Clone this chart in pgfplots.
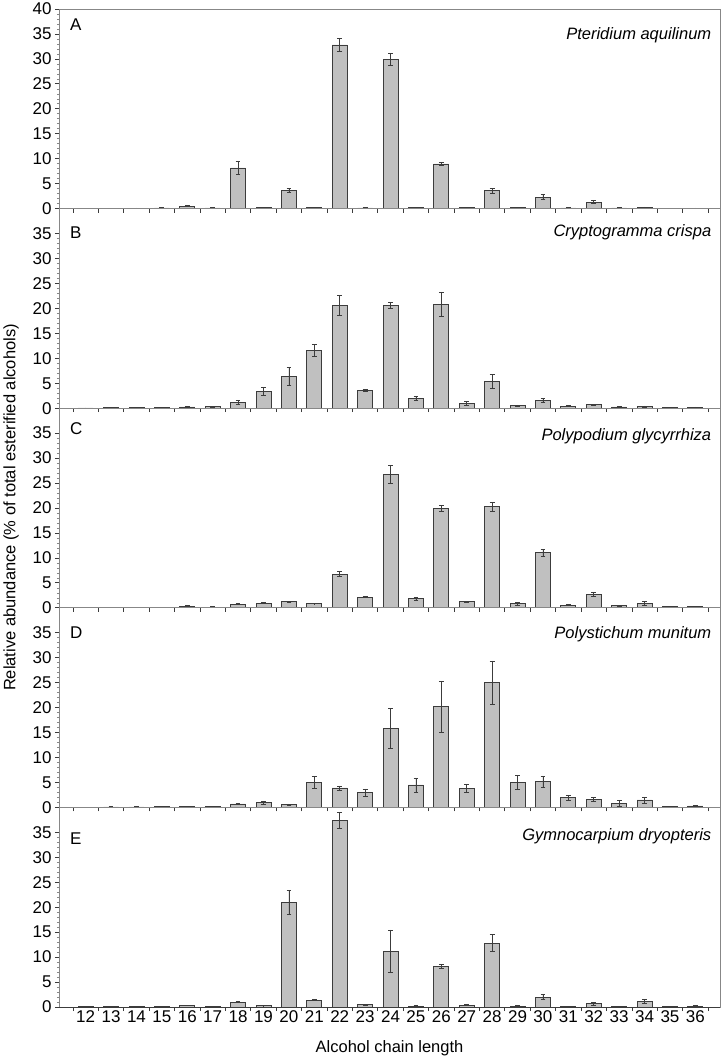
\documentclass[border=0pt]{standalone}
\usepackage{fontspec}
\setmainfont{Liberation Sans}
\usepackage{pgfplots}
\usepackage{pgfplotstable}
\pgfplotsset{compat=1.18}

\definecolor{barfill}{RGB}{192,192,192}
\definecolor{barline}{RGB}{60,60,60}
\definecolor{frame}{RGB}{135,135,135}
\newcommand\fs{\fontsize{17}{19}\selectfont}
\newcommand\fss{\fontsize{16.5}{19}\selectfont}

% x = chain length, y = mean %, e = error
\pgfplotstableread{
x y e
12 0.08 0.02
13 0.08 0.02
14 0.1 0.03
15 0.12 0.03
16 0.45 0.1
17 0.12 0.03
18 8.15 1.35
19 0.2 0.05
20 3.55 0.4
21 0.15 0.05
22 32.8 1.3
23 0.12 0.03
24 29.9 1.25
25 0.15 0.05
26 8.95 0.35
27 0.15 0.05
28 3.55 0.45
29 0.2 0.05
30 2.25 0.5
31 0.12 0.03
32 1.3 0.25
33 0.12 0.03
34 0.25 0.08
35 0.08 0.02
36 0.1 0.02
}\tabA
\pgfplotstableread{
x y e
12 0.05 0.0
13 0.08 0.02
14 0.08 0.02
15 0.12 0.03
16 0.25 0.1
17 0.3 0.1
18 1.15 0.35
19 3.35 0.75
20 6.4 1.8
21 11.6 1.15
22 20.6 1.95
23 3.55 0.2
24 20.6 0.65
25 1.95 0.35
26 20.8 2.5
27 0.95 0.35
28 5.4 1.4
29 0.5 0.15
30 1.55 0.35
31 0.4 0.1
32 0.7 0.1
33 0.25 0.05
34 0.35 0.1
35 0.15 0.05
36 0.2 0.05
}\tabB
\pgfplotstableread{
x y e
12 0.03 0
13 0.03 0
14 0.08 0.02
15 0.12 0.03
16 0.35 0.08
17 0.15 0.05
18 0.75 0.15
19 0.95 0.15
20 1.2 0.15
21 0.85 0.05
22 6.75 0.45
23 2.15 0.15
24 26.8 1.8
25 1.8 0.25
26 19.9 0.65
27 1.2 0.15
28 20.3 0.9
29 0.8 0.3
30 11.05 0.7
31 0.5 0.1
32 2.65 0.35
33 0.4 0.1
34 0.95 0.4
35 0.2 0.05
36 0.25 0.05
}\tabC
\pgfplotstableread{
x y e
12 0.03 0
13 0.08 0.02
14 0.08 0.02
15 0.15 0.03
16 0.2 0.05
17 0.15 0.05
18 0.7 0.15
19 1.0 0.3
20 0.6 0.1
21 5.0 1.2
22 3.9 0.4
23 3.0 0.7
24 15.8 4.0
25 4.5 1.4
26 20.2 5.15
27 3.8 0.8
28 25.0 4.35
29 5.0 1.35
30 5.15 1.15
31 2.0 0.5
32 1.6 0.45
33 0.8 0.6
34 1.5 0.6
35 0.2 0.05
36 0.3 0.1
}\tabD
\pgfplotstableread{
x y e
12 0.03 0
13 0.08 0.02
14 0.1 0.03
15 0.15 0.05
16 0.35 0.05
17 0.15 0.05
18 0.95 0.1
19 0.3 0.05
20 20.95 2.45
21 1.4 0.15
22 37.3 1.6
23 0.45 0.15
24 11.2 4.25
25 0.2 0.05
26 8.05 0.4
27 0.35 0.1
28 12.75 1.7
29 0.2 0.05
30 2.0 0.45
31 0.15 0.05
32 0.65 0.25
33 0.08 0.02
34 1.2 0.4
35 0.08 0.02
36 0.2 0.05
}\tabE

\pgfplotsset{
  panel/.style={
    scale only axis, width=661pt, height=199.6pt,
    xmin=10.95, xmax=36.97, ymin=0, ymax=40,
    tick pos=left, tick align=outside,
    xtick={11.5,12.5,...,36.5}, xticklabels={},
    ytick={0,5,...,35}, minor y tick num=4,
    major tick length=4pt, minor tick length=2pt,
    axis line style={frame, line width=0.8pt},
    tick style={barline, line width=0.7pt},
    minor tick style={frame, line width=0.6pt},
    tick label style={font=\fs},
    /pgf/number format/assume math mode=true,
    ybar, bar width=15pt,
  },
  bars/.style={
    fill=barfill, draw=barline, line width=0.8pt,
    error bars/.cd, y dir=both, y explicit,
    error bar style={barline, line width=0.8pt},
    error mark options={rotate=90, mark size=2.4pt, barline, line width=0.8pt},
  },
}

\newcommand\panelbars[1]{%
  \draw[barline, line width=0.9pt] (rel axis cs:0,0) -- (rel axis cs:1,0);
  \addplot[bars] table[x=x, y=y, y error=e] {#1};}

\begin{document}
\begin{tikzpicture}
% A
\begin{axis}[panel, at={(0,798.4pt)}, ytick={0,5,...,40}]
\panelbars{\tabA}
\node[anchor=west, inner sep=0pt, font=\fs] at (rel axis cs:0.0166,0.92) {A};
\node[anchor=east, inner sep=0pt, font=\fss\itshape] at (rel axis cs:0.987,0.87) {Pteridium aquilinum};
\end{axis}
% B
\begin{axis}[panel, at={(0,598.8pt)}]
\panelbars{\tabB}
\node[anchor=west, inner sep=0pt, font=\fs] at (rel axis cs:0.0166,0.88) {B};
\node[anchor=east, inner sep=0pt, font=\fss\itshape] at (rel axis cs:0.987,0.88) {Cryptogramma crispa};
\end{axis}
% C
\begin{axis}[panel, at={(0,399.2pt)}]
\panelbars{\tabC}
\node[anchor=west, inner sep=0pt, font=\fs] at (rel axis cs:0.0166,0.90) {C};
\node[anchor=east, inner sep=0pt, font=\fss\itshape] at (rel axis cs:0.987,0.86) {Polypodium glycyrrhiza};
\end{axis}
% D
\begin{axis}[panel, at={(0,199.6pt)}]
\panelbars{\tabD}
\node[anchor=west, inner sep=0pt, font=\fs] at (rel axis cs:0.0166,0.875) {D};
\node[anchor=east, inner sep=0pt, font=\fss\itshape] at (rel axis cs:0.987,0.87) {Polystichum munitum};
\end{axis}
% E
\begin{axis}[panel, at={(0,0)},
  extra x ticks={12,13,...,36}, extra x tick style={major tick length=0pt},
  xlabel={Alcohol chain length},
  xlabel style={font=\fss, at={(axis description cs:0.5,0)}, anchor=base, yshift=-45.7pt}]
\panelbars{\tabE}
\node[anchor=west, inner sep=0pt, font=\fs] at (rel axis cs:0.0166,0.845) {E};
\node[anchor=east, inner sep=0pt, font=\fss\itshape] at (rel axis cs:0.987,0.855) {Gymnocarpium dryopteris};
\end{axis}
\node[rotate=90, font=\fss] at (-48pt,499.5pt)
  {Relative abundance (\% of total esterified alcohols)};
\pgfresetboundingbox
\useasboundingbox (-59pt,-50pt) rectangle (663pt,1007pt);
\end{tikzpicture}
\end{document}
